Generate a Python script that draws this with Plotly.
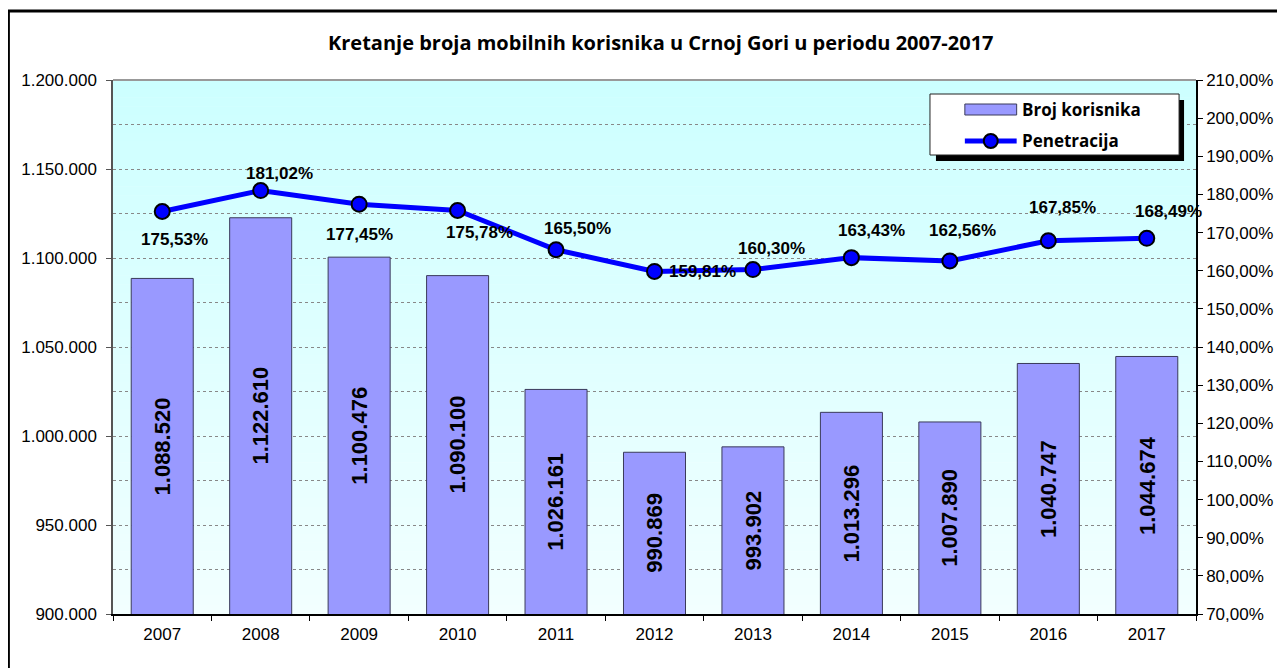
import plotly.graph_objects as go

years = ["2007", "2008", "2009", "2010", "2011", "2012", "2013", "2014", "2015", "2016", "2017"]
users = [1088520, 1122610, 1100476, 1090100, 1026161, 990869, 993902, 1013296, 1007890, 1040747, 1044674]
penetration = [175.53, 181.02, 177.45, 175.78, 165.50, 159.81, 160.30, 163.43, 162.56, 167.85, 168.49]
# label offsets (px) relative to each point (dx right, dy down)
lab_dx = [12, 19, 0, 22, 21, 48, 19, 20, 13, 14, 22]
lab_dy = [28, -17, 30, 22, -21, 0, -21, -27, -30, -33, -27]

Y_MIN, Y_MAX = 900000, 1200000
P_MIN, P_MAX = 0.7, 2.1

OFF = 8  # browser body margin
W, H = 1285 - OFF, 668 - OFF
L, R, T, B = 113 - OFF, 85, 80 - OFF, 54
PW, PH = W - L - R, H - T - B


def px(x):
    return (x - OFF - L) / PW


def py(y):
    return (H - B - (y - OFF)) / PH


def fmt_int(v):
    return f"{v:,}".replace(",", ".")


pen_frac = [p / 100 for p in penetration]
pen_text = [f"{p:.2f}%".replace(".", ",") for p in penetration]

fig = go.Figure()
fig.add_trace(go.Bar(
    x=years, y=users, name="Broj korisnika",
    marker=dict(color="#9999FF", line=dict(color="#3A3A5A", width=1)),
    showlegend=False, hoverinfo="skip",
))
fig.add_trace(go.Scatter(
    x=years, y=pen_frac, name="Penetracija", yaxis="y2", mode="lines+markers",
    line=dict(color="#0000FF", width=5),
    marker=dict(size=15, color="#0000FF", line=dict(color="black", width=2)),
    showlegend=False, hoverinfo="skip",
))

annotations = []
bar_font = dict(family="Liberation Sans", size=22, color="black", weight="bold")
for i, u in enumerate(users):
    annotations.append(dict(
        x=i, y=(Y_MIN + u) / 2, xref="x", yref="y", text=fmt_int(u), textangle=-90,
        showarrow=False, xanchor="center", yanchor="middle", font=bar_font,
    ))
lab_font = dict(family="Liberation Sans", size=17, color="black", weight="bold")
for i, (p, t, dx, dy) in enumerate(zip(pen_frac, pen_text, lab_dx, lab_dy)):
    annotations.append(dict(
        x=i, y=p, xref="x", yref="y2", text=t,
        showarrow=False, xshift=dx, yshift=-dy, font=lab_font,
        xanchor="center", yanchor="middle",
    ))
annotations.append(dict(
    x=px(663), y=py(43), xref="paper", yref="paper", xanchor="center", yanchor="middle",
    text="<b>Kretanje broja mobilnih korisnika u Crnoj Gori u periodu 2007-2017</b>",
    showarrow=False, font=dict(family="Open Sans", size=20, color="black"),
))
leg_font = dict(family="Open Sans", size=17, color="black", weight="bold")
annotations.append(dict(x=px(1023), y=py(109), xref="paper", yref="paper", xanchor="left",
                        yanchor="middle", text="Broj korisnika", showarrow=False, font=leg_font))
annotations.append(dict(x=px(1023), y=py(141), xref="paper", yref="paper", xanchor="left",
                        yanchor="middle", text="Penetracija", showarrow=False, font=leg_font))

shapes = []
# gradient background of plot area
N = 60
top = (204, 255, 255)
bot = (242, 255, 255)
for i in range(N):
    t = (i + 0.5) / N
    c = tuple(round(top[k] + (bot[k] - top[k]) * t) for k in range(3))
    shapes.append(dict(type="rect", xref="paper", yref="paper", x0=0, x1=1,
                       y0=1 - (i + 1) / N, y1=1 - i / N + 0.001,
                       fillcolor=f"rgb{c}", line=dict(width=0), layer="below"))
# plot area top border
shapes.append(dict(type="line", xref="paper", yref="paper", x0=0, x1=1, y0=1, y1=1,
                   line=dict(color="#999999", width=2)))
# outer chart border
shapes.append(dict(type="rect", xref="paper", yref="paper",
                   x0=px(8), x1=px(1300), y0=py(700), y1=py(11),
                   line=dict(color="black", width=3), fillcolor="rgba(0,0,0,0)"))
# legend shadow and box
shapes.append(dict(type="rect", xref="paper", yref="paper",
                   x0=px(939), x1=px(1188), y0=py(161), y1=py(100),
                   line=dict(width=0), fillcolor="black"))
shapes.append(dict(type="rect", xref="paper", yref="paper",
                   x0=px(933), x1=px(1183), y0=py(155), y1=py(94),
                   line=dict(color="#222222", width=1), fillcolor="white"))
# legend symbols
shapes.append(dict(type="rect", xref="paper", yref="paper",
                   x0=px(968), x1=px(1020), y0=py(115), y1=py(104),
                   line=dict(color="#3A3A5A", width=1), fillcolor="#9999FF"))
shapes.append(dict(type="line", xref="paper", yref="paper",
                   x0=px(968), x1=px(1020), y0=py(141), y1=py(141),
                   line=dict(color="#0000FF", width=5)))
shapes.append(dict(type="circle", xref="paper", yref="paper",
                   x0=px(987), x1=px(1001), y0=py(148), y1=py(134),
                   line=dict(color="black", width=2), fillcolor="#0000FF"))

tick_font = dict(family="Liberation Sans", size=17, color="black")
fig.update_layout(
    width=W, height=H, margin=dict(l=L, r=R, t=T, b=B, pad=0), autosize=False,
    paper_bgcolor="white", plot_bgcolor="rgba(0,0,0,0)",
    separators=",.",
    bargap=0.37,
    font=dict(family="Liberation Sans", size=17, color="black"),
    showlegend=False,
    xaxis=dict(type="category", range=[-0.5, len(years) - 0.5], autorange=False,
               showgrid=False, showline=True, linecolor="black", linewidth=1.5,
               ticks="outside", ticklen=5, tickcolor="black", tickson="boundaries",
               tickangle=0, tickfont=tick_font, ticklabelstandoff=4),
    yaxis=dict(range=[Y_MIN, Y_MAX], autorange=False, dtick=50000, tickformat=",d",
               showgrid=True, gridcolor="#888888", griddash="dot", gridwidth=1,
               minor=dict(dtick=25000, showgrid=True, gridcolor="#888888", griddash="dot", gridwidth=1),
               showline=True, linecolor="#555555", linewidth=1.5,
               ticks="outside", ticklen=5, tickcolor="#555555", zeroline=False,
               tickfont=tick_font, ticklabelstandoff=6),
    yaxis2=dict(range=[P_MIN, P_MAX], autorange=False, dtick=0.1, tickformat=".2%",
                overlaying="y", side="right",
                showgrid=False, showline=True, linecolor="black", linewidth=1.5,
                ticks="outside", ticklen=5, tickcolor="black", zeroline=False,
                tickfont=tick_font),
    annotations=annotations, shapes=shapes,
)

fig.write_html("out.html")
